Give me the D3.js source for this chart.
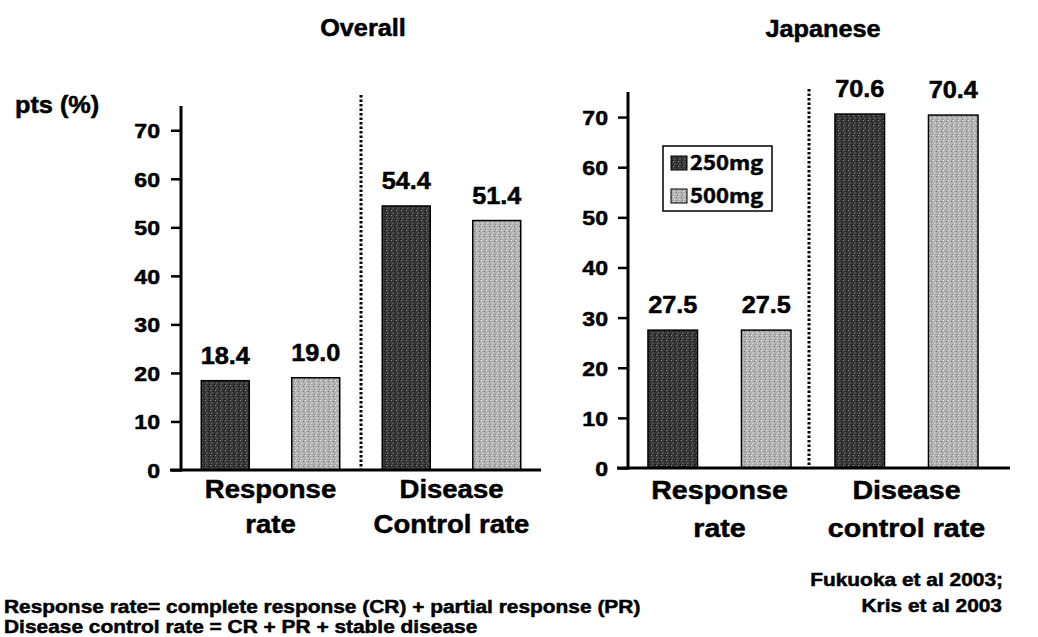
<!DOCTYPE html>
<html>
<head>
<meta charset="utf-8">
<script src="https://cdn.jsdelivr.net/npm/d3@7"></script>
<style>
  html, body { margin: 0; padding: 0; background: #fff; }
  svg { display: block; }
  text { font-family: "Liberation Sans", Arial, Helvetica, sans-serif; font-weight: bold; fill: #000;
         stroke: #000; stroke-width: 0.5px; }
</style>
</head>
<body>
<svg id="chart" width="1038" height="637"></svg>
<script>
// ---- data ----
const categories = ["Response rate", "Disease control rate"];
const doses = ["250mg", "500mg"];
const overall250 = [18.4, 54.4];
const overall500 = [19.0, 51.4];
const japanese250 = [27.5, 70.6];
const japanese500 = [27.5, 70.4];
const yTicks = [0, 10, 20, 30, 40, 50, 60, 70];
const overallCategoryLines = [["Response", "rate"], ["Disease", "Control rate"]];
const japaneseCategoryLines = [["Response", "rate"], ["Disease", "control rate"]];
const footnotes = [
  "Response rate= complete response (CR) + partial response (PR)",
  "Disease control rate = CR + PR + stable disease"
];
const citations = ["Fukuoka et al 2003;", "Kris et al 2003"];

// horizontal stretch of all lettering
const SX = 1.1;

const svg = d3.select("#chart");

// stippled fills for the two doses
const defs = svg.append("defs");
function stipple(id, base, specks) {
  const p = defs.append("pattern")
    .attr("id", id).attr("patternUnits", "userSpaceOnUse")
    .attr("width", 5).attr("height", 5);
  p.append("rect").attr("width", 5).attr("height", 5).attr("fill", base);
  specks.forEach(([x, y, c]) => p.append("rect")
    .attr("x", x).attr("y", y).attr("width", 1).attr("height", 1).attr("fill", c));
}
stipple("fill250", "#383838", [[0,0,"#8a8a8a"],[3,1,"#151515"],[1,3,"#6a6a6a"],[4,4,"#0c0c0c"],[2,2,"#555"]]);
stipple("fill500", "#b2b2b2", [[0,0,"#ececec"],[3,1,"#747474"],[1,3,"#dcdcdc"],[4,4,"#888"],[2,2,"#c8c8c8"]]);
const doseFill = d3.scaleOrdinal().domain(doses).range(["url(#fill250)", "url(#fill500)"]);

function putText(g, x, y, str, size, anchor, family) {
  const t = g.append("text")
    .attr("transform", `translate(${x},${y}) scale(${SX},1)`)
    .attr("text-anchor", anchor || "start")
    .style("font-size", size + "px")
    .text(str);
  if (family) t.style("font-family", family);
  return t;
}

function panel(cfg) {
  const g = svg.append("g");
  const rows = categories.map((c, i) => ({ cat: c, vals: [cfg.v250[i], cfg.v500[i]] }));

  const y = d3.scaleLinear().domain([0, 75]).range([cfg.yBottom, cfg.yTop]);
  const x0 = d3.scaleBand().domain(categories).range([cfg.xStart, cfg.xEnd]);
  const x1 = d3.scaleBand().domain(doses).range([0, x0.bandwidth()])
    .paddingInner(0.47).paddingOuter(0.235);

  // y axis with ticks
  const axis = d3.axisLeft(y).tickValues(yTicks).tickSize(10).tickPadding(cfg.tickPad);
  const ag = g.append("g").attr("transform", `translate(${cfg.axisX},0)`).call(axis);
  ag.select(".domain").remove();
  ag.selectAll(".tick line").attr("stroke", "#000").attr("stroke-width", 2.5);
  ag.selectAll(".tick text").each(function () {
    const t = d3.select(this);
    const tx = +t.attr("x");
    t.attr("x", null).attr("dy", null)
      .attr("transform", `translate(${tx},7.5) scale(${SX},1)`)
      .attr("text-anchor", "end")
      .style("font-size", "21px")
      .style("font-family", '"Liberation Sans", Arial, sans-serif');
  });
  ag.attr("font-size", null).attr("font-family", null);

  // bars
  const groups = g.selectAll(".grp").data(rows).join("g")
    .attr("transform", d => `translate(${x0(d.cat)},0)`);
  groups.selectAll("rect").data(d => d.vals.map((v, k) => ({ dose: doses[k], v })))
    .join("rect")
    .attr("x", d => x1(d.dose))
    .attr("y", d => y(d.v))
    .attr("width", x1.bandwidth())
    .attr("height", d => y(0) - y(d.v))
    .attr("fill", d => doseFill(d.dose))
    .attr("stroke", "#000").attr("stroke-width", 1.5);

  // value labels
  groups.each(function (d) {
    const gg = d3.select(this);
    d.vals.forEach((v, k) => {
      putText(gg, x1(doses[k]) + x1.bandwidth() / 2, y(v) - 17, v.toFixed(1), 23, "middle");
    });
  });

  // dotted divider between the two measures
  const divX = (x0(categories[0]) + x1(doses[1]) + x1.bandwidth() + x0(categories[1]) + x1(doses[0])) / 2 + cfg.divShift;
  g.append("line")
    .attr("x1", divX).attr("x2", divX)
    .attr("y1", cfg.divTop).attr("y2", y(0))
    .attr("stroke", "#000").attr("stroke-width", 3)
    .attr("stroke-dasharray", "2.5,2");

  // axis lines
  g.append("line").attr("x1", cfg.axisX).attr("x2", cfg.axisX)
    .attr("y1", cfg.yTop).attr("y2", y(0) + 1.5)
    .attr("stroke", "#000").attr("stroke-width", 3);
  g.append("line").attr("x1", cfg.axisX - 11).attr("x2", cfg.baseEnd)
    .attr("y1", y(0)).attr("y2", y(0))
    .attr("stroke", "#000").attr("stroke-width", 3);

  // category labels
  cfg.catLines.forEach((lines, i) => {
    const cx = x0(categories[i]) + x0.bandwidth() / 2;
    lines.forEach((ln, j) => putText(g, cx, cfg.catY + j * cfg.catStep, ln, cfg.catSize, "middle"));
  });

  // panel title
  putText(g, cfg.titleX, cfg.titleY, cfg.title, 23, "middle");
  return { g, y };
}

panel({
  title: "Overall", titleX: 363, titleY: 36,
  v250: overall250, v500: overall500,
  xStart: 180, xEnd: 542, axisX: 181, yTop: 106, yBottom: 470,
  tickPad: 11, divTop: 95, divShift: 0, baseEnd: 541,
  catLines: overallCategoryLines, catY: 498, catStep: 35, catSize: 25
});

const jp = panel({
  title: "Japanese", titleX: 823, titleY: 37,
  v250: japanese250, v500: japanese500,
  xStart: 626, xEnd: 1000, axisX: 628, yTop: 92, yBottom: 468,
  tickPad: 10, divTop: 89, divShift: -4, baseEnd: 1010,
  catLines: japaneseCategoryLines, catY: 499, catStep: 38, catSize: 26
});

// legend
const lg = jp.g.append("g").attr("transform", "translate(663,146)");
lg.append("rect").attr("width", 109).attr("height", 65)
  .attr("fill", "#fff").attr("stroke", "#000").attr("stroke-width", 1.5);
doses.forEach((d, i) => {
  lg.append("rect").attr("x", 8).attr("y", 10 + i * 33).attr("width", 16).attr("height", 14)
    .attr("fill", doseFill(d)).attr("stroke", "#000").attr("stroke-width", 1);
  putText(lg, 27, 24 + i * 33, d, 20, "start", '"Noto Sans CJK JP", "Liberation Sans", sans-serif');
});

// y-axis unit
putText(svg, 15, 113, "pts (%)", 23, "start");

// footnotes and sources
footnotes.forEach((f, i) => putText(svg, 4, 613 + i * 20, f, 19, "start"));
putText(svg, 1003, 586, citations[0], 19, "end");
putText(svg, 1002, 612, citations[1], 19, "end");
</script>
</body>
</html>
